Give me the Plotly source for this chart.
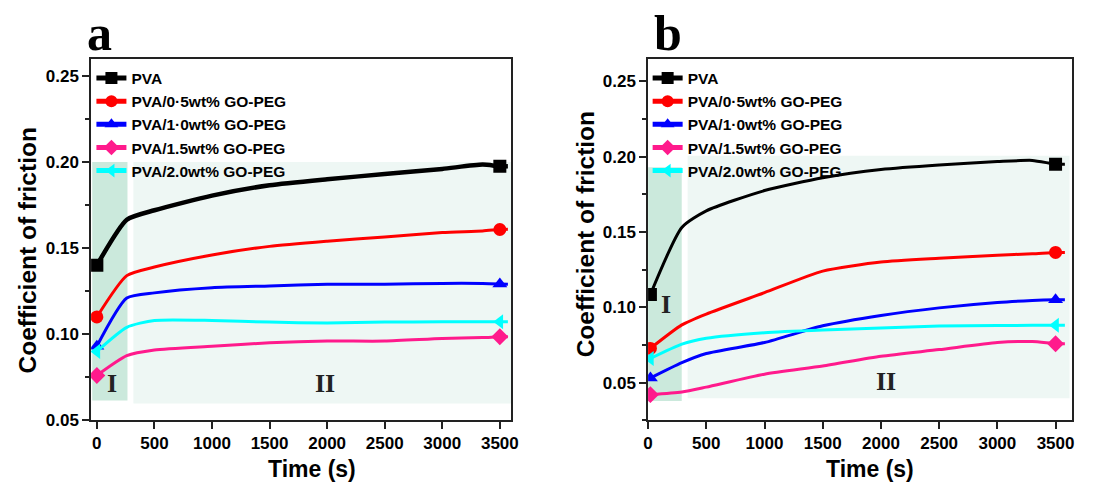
import plotly.graph_objects as go

# ---------------- data ----------------
series_names = ["PVA", "PVA/0·5wt% GO-PEG", "PVA/1·0wt% GO-PEG",
                "PVA/1.5wt% GO-PEG", "PVA/2.0wt% GO-PEG"]
colors = ["#000000", "#ff0000", "#0000ff", "#ff1a8c", "#00ffff"]
symbols = ["square", "circle", "triangle-up", "diamond", "triangle-left"]
line_widths_a = [4.5, 3, 3, 3, 3]
line_widths_b = [3, 3, 3, 3, 3]

# Panel a
time_a = [0, 260, 500, 1000, 1500, 2000, 2500, 3000, 3350, 3500, 3570]
pva_a = [0.140, 0.1665, 0.172, 0.1805, 0.1865, 0.190, 0.193, 0.196, 0.1985, 0.1975, 0.1975]
go05_a = [0.110, 0.134, 0.139, 0.146, 0.151, 0.154, 0.1565, 0.159, 0.160, 0.1608, 0.161]
go10_a = [0.093, 0.121, 0.124, 0.127, 0.128, 0.129, 0.129, 0.1295, 0.1295, 0.1292, 0.129]
go15_a = [0.076, 0.0875, 0.0908, 0.093, 0.095, 0.096, 0.096, 0.0975, 0.098, 0.0985, 0.0985]
go20_a = [0.090, 0.104, 0.108, 0.108, 0.107, 0.1065, 0.107, 0.1072, 0.1072, 0.1072, 0.1072]

# Panel b
time_b = [20, 290, 500, 1000, 1500, 2000, 2500, 3000, 3300, 3500, 3580]
pva_b = [0.1085, 0.153, 0.164, 0.1775, 0.186, 0.1915, 0.1945, 0.1967, 0.1975, 0.195, 0.195]
go05_b = [0.0727, 0.0883, 0.0955, 0.1097, 0.124, 0.130, 0.1325, 0.1346, 0.1355, 0.1364, 0.1364]
go10_b = [0.053, 0.0632, 0.0693, 0.0766, 0.0877, 0.0946, 0.0996, 0.1032, 0.1045, 0.105, 0.105]
go15_b = [0.042, 0.0437, 0.047, 0.0556, 0.061, 0.0675, 0.0719, 0.0766, 0.0772, 0.0758, 0.0758]
go20_b = [0.066, 0.0755, 0.0794, 0.0831, 0.0849, 0.0862, 0.0875, 0.0879, 0.088, 0.0881, 0.0881]

marker_idx = [0, 9]  # points carrying a symbol (first and end)

# shaded stage regions: [x0, x1, y0, y1]
region_a_I = [-40, 266, 0.0614, 0.200]
region_a_II = [317, 3600, 0.0597, 0.200]
region_b_I = [0, 289, 0.0377, 0.193]
region_b_II = [340, 3620, 0.0396, 0.2006]

x_ticks = [0, 500, 1000, 1500, 2000, 2500, 3000, 3500]
x_ticklabels = ["0", "500", "1000", "1500", "2000", "2500", "3000", "3500"]
y_ticks = [0.05, 0.10, 0.15, 0.20, 0.25]
y_ticklabels = ["0.05", "0.10", "0.15", "0.20", "0.25"]

x_title = "Time (s)"
y_title = "Coefficient of friction"

# ---------------- figure ----------------
FONT = "Liberation Sans, Arial, sans-serif"
SERIF = "Liberation Serif, Times New Roman, serif"
fig = go.Figure()

data_a = [pva_a, go05_a, go10_a, go15_a, go20_a]
data_b = [pva_b, go05_b, go10_b, go15_b, go20_b]

for panel, (tx, dset, lw, xa, ya, leg) in enumerate([
        (time_a, data_a, line_widths_a, "x", "y", "legend"),
        (time_b, data_b, line_widths_b, "x2", "y2", "legend2")]):
    for i, ys in enumerate(dset):
        sizes = [13 if k in marker_idx else 0 for k in range(len(ys))]
        fig.add_trace(go.Scatter(
            x=tx, y=ys, mode="lines+markers", name=series_names[i],
            line=dict(color=colors[i], width=lw[i], shape="spline", smoothing=0.6),
            marker=dict(symbol=symbols[i], size=sizes, color=colors[i], opacity=1,
                        line=dict(width=0)),
            xaxis=xa, yaxis=ya, legend=leg, showlegend=True))

# shaded regions (below traces)
def rect(xref, yref, r, color):
    fig.add_shape(type="rect", xref=xref, yref=yref, x0=r[0], x1=r[1], y0=r[2], y1=r[3],
                  fillcolor=color, line=dict(width=0), layer="below")

rect("x", "y", region_a_I, "#cbe9dc")
rect("x", "y", region_a_II, "#eef7f4")
rect("x2", "y2", region_b_I, "#cbe9dc")
rect("x2", "y2", region_b_II, "#eef7f4")

# stage labels
for xref, yref, xv, yv, t in [("x", "y", 130, 0.0715, "I"), ("x", "y", 1980, 0.0715, "II"),
                              ("x2", "y2", 153, 0.102, "I"), ("x2", "y2", 2040, 0.0505, "II")]:
    fig.add_annotation(xref=xref, yref=yref, x=xv, y=yv, text=t,
                       showarrow=False, font=dict(family=SERIF, size=26, color="#222",
                                                  weight="bold"))

# panel letters
fig.add_annotation(xref="paper", yref="paper", x=0.0723, y=0.994, text="a",
                   showarrow=False, xanchor="left", yanchor="top",
                   font=dict(family=SERIF, size=50, color="black", weight="bold"))
fig.add_annotation(xref="paper", yref="paper", x=0.5836, y=0.994, text="b",
                   showarrow=False, xanchor="left", yanchor="top",
                   font=dict(family=SERIF, size=50, color="black", weight="bold"))

# axis titles
for xv, yv, t, ang, sz in [(0.2772, 0.0224, x_title, 0, 23), (0.7804, 0.0224, x_title, 0, 23),
                           (0.0205, 0.4776, y_title, -90, 24.5),
                           (0.5241, 0.5112, y_title, -90, 24.5)]:
    fig.add_annotation(xref="paper", yref="paper", x=xv, y=yv, text=t, textangle=ang,
                       showarrow=False, xanchor="center", yanchor="middle",
                       font=dict(family=FONT, size=sz, color="black", weight="bold"))

axis_common = dict(showline=True, linecolor="#222", linewidth=1.5, mirror=True,
                   ticks="outside", tickcolor="#222", tickwidth=1.5, ticklen=7,
                   showgrid=False, zeroline=False,
                   tickfont=dict(family=FONT, size=17, color="black", weight="bold"))

ydom = [0.1245, 0.8776]
minor_y = dict(ticks="outside", ticklen=4, tickcolor="#222", tickwidth=1.5,
               dtick=0.025, showgrid=False)
legend_common = dict(xanchor="left", yanchor="top", bgcolor="rgba(0,0,0,0)",
                     font=dict(family=FONT, size=15.5, color="black", weight="bold"),
                     itemwidth=30, tracegroupgap=0, borderwidth=0, itemsizing="constant")
fig.update_layout(
    width=1120, height=490, margin=dict(l=0, r=0, t=0, b=0),
    paper_bgcolor="white", plot_bgcolor="white",
    font=dict(family=FONT, color="black"),
    xaxis=dict(domain=[0.0777, 0.457], range=[-50, 3600], tickvals=x_ticks,
               ticktext=x_ticklabels, **axis_common),
    yaxis=dict(domain=ydom, range=[0.05, 0.26], tickvals=y_ticks, ticktext=y_ticklabels,
               minor=minor_y, **axis_common),
    xaxis2=dict(domain=[0.5804, 0.9634], range=[0, 3645], tickvals=x_ticks, anchor="y2",
                ticktext=x_ticklabels, **axis_common),
    yaxis2=dict(domain=ydom, range=[0.025, 0.265], tickvals=y_ticks, ticktext=y_ticklabels,
                anchor="x2", minor=minor_y, **axis_common),
    legend=dict(x=0.078, y=0.872, **legend_common),
    legend2=dict(x=0.580, y=0.872, **legend_common),
)

fig.write_html("out.html")
